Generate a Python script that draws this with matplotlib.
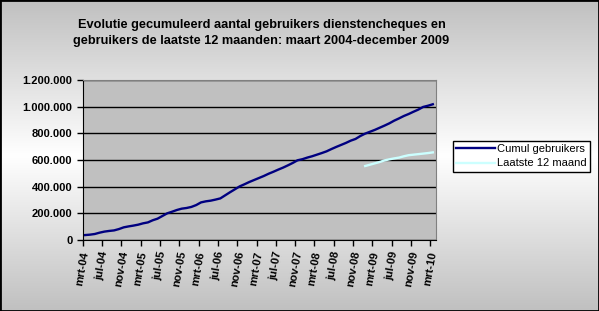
import numpy as np
import matplotlib.pyplot as plt
from matplotlib.colors import LinearSegmentedColormap
from matplotlib.ticker import FuncFormatter

plt.rcParams['font.family'] = ['Liberation Sans', 'DejaVu Sans']

# maandelijkse waarden vanaf mrt-04 tot mrt-10
cumul = [37000, 40000, 45000, 55000, 63000, 68000, 72000, 82000, 95000, 102000,
         108000, 115000, 125000, 132000, 148000, 160000, 180000, 200000, 212000, 225000,
         235000, 240000, 248000, 262000, 282000, 290000, 295000, 303000, 312000, 335000,
         358000, 380000, 402000, 418000, 435000, 450000, 465000, 480000, 497000, 512000,
         528000, 543000, 560000, 578000, 598000, 606000, 618000, 628000, 640000, 652000,
         665000, 682000, 698000, 713000, 728000, 745000, 758000, 780000, 798000, 812000,
         826000, 842000, 858000, 875000, 895000, 912000, 930000, 945000, 962000, 978000,
         998000, 1007000, 1018000]
laatste12_start = 58
laatste12 = [555000, 565000, 575000, 585000, 597000, 605000, 612000, 618000, 628000,
             636000, 640000, 644000, 648000, 652000, 657000]
tick_labels = ['mrt-04', 'jul-04', 'nov-04', 'mrt-05', 'jul-05', 'nov-05', 'mrt-06',
               'jul-06', 'nov-06', 'mrt-07', 'jul-07', 'nov-07', 'mrt-08', 'jul-08',
               'nov-08', 'mrt-09', 'jul-09', 'nov-09', 'mrt-10']

fig = plt.figure(figsize=(5.99, 3.11), dpi=100)

# achtergrond met verloop
bg = fig.add_axes([0, 0, 1, 1], zorder=-1)
cmap = LinearSegmentedColormap.from_list('bg', ['#c0c0c0', '#ffffff', '#c0c0c0'])
bg.imshow(np.linspace(0, 1, 256).reshape(-1, 1), cmap=cmap, aspect='auto',
          extent=[0, 1, 0, 1])
bg.set_xticks([])
bg.set_yticks([])
for s in bg.spines.values():
    s.set_linewidth(2)
    s.set_edgecolor('black')

ax = fig.add_axes([82.7 / 599, 71 / 311, 353 / 599, 160 / 311])
ax.set_facecolor('#c0c0c0')

x = np.arange(len(cumul)) + 0.5
x2 = np.arange(laatste12_start, laatste12_start + len(laatste12)) + 0.5
ax.plot(x, cumul, color='#000080', lw=1.7, label='Cumul gebruikers')
ax.plot(x2, laatste12, color='#ccffff', lw=1.7, label='Laatste 12 maand')

ax.set_xlim(0, 73.1)
ax.set_ylim(0, 1200000)
ax.set_yticks(np.arange(0, 1200001, 200000))
ax.yaxis.set_major_formatter(FuncFormatter(lambda v, p: f"{int(v):,}".replace(',', '.')))
ax.set_xticks(np.arange(0, 73, 4))
ax.set_xticklabels(tick_labels, rotation=80, ha='center', va='top',
                   rotation_mode='default')
ax.tick_params(axis='both', direction='out', length=4, width=1, labelsize=8)
for lab in ax.get_xticklabels() + ax.get_yticklabels():
    lab.set_fontweight('bold')
ax.grid(axis='y', color='black', lw=1)
ax.set_axisbelow(True)
ax.spines['top'].set_color('#808080')
ax.spines['right'].set_color('#808080')

fig.text(261.5 / 599, 1 - 33 / 311,
         'Evolutie gecumuleerd aantal gebruikers dienstencheques en\n'
         'gebruikers de laatste 12 maanden: maart 2004-december 2009',
         ha='center', va='center', fontsize=9.2, fontweight='bold', linespacing=1.5)

leg = fig.legend(loc='upper left', bbox_to_anchor=(452.7 / 599, 1 - 140.7 / 311),
                 fontsize=8, frameon=True, fancybox=False, edgecolor='black',
                 framealpha=1, borderaxespad=0, handlelength=3.5, handletextpad=0.2,
                 borderpad=0.3, labelspacing=0.4)
leg.get_frame().set_linewidth(1)

fig.savefig('out.png', dpi=100)
